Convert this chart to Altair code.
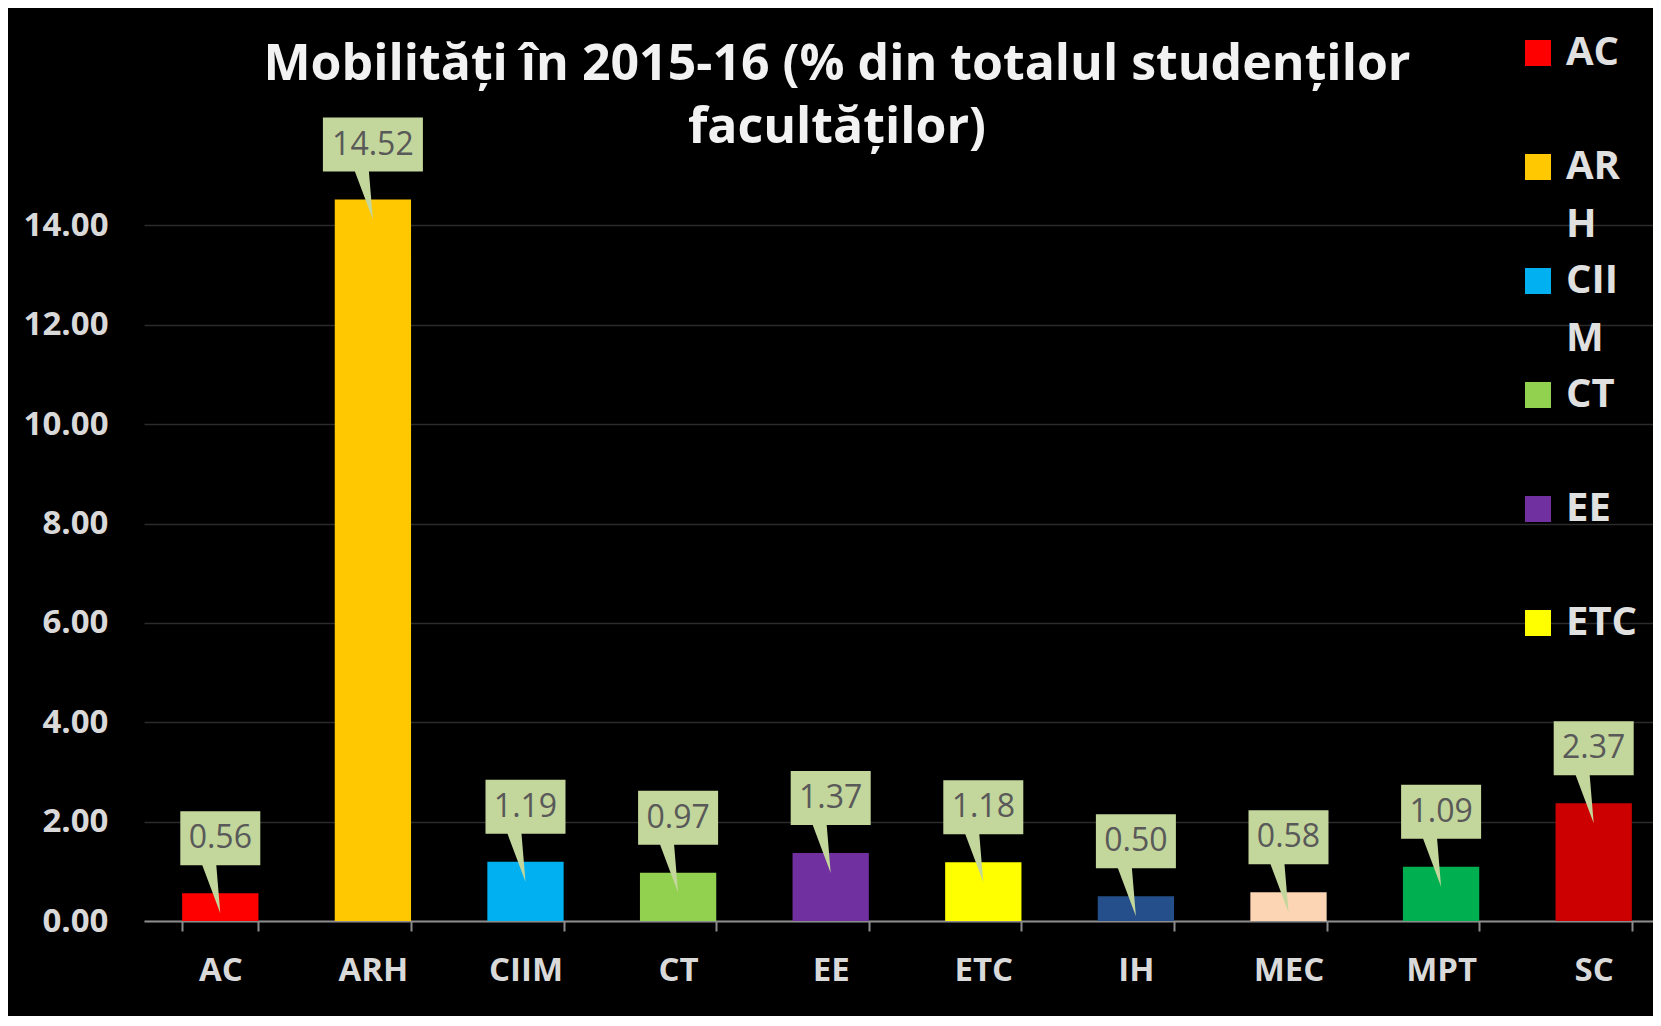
import altair as alt
import pandas as pd

# ---- data ----
categories = ["AC", "ARH", "CIIM", "CT", "EE", "ETC", "IH", "MEC", "MPT", "SC"]
values = [0.56, 14.52, 1.19, 0.97, 1.37, 1.18, 0.50, 0.58, 1.09, 2.37]
bar_colors = ["#ff0000", "#ffc800", "#00b0f0", "#92d050", "#7030a0",
              "#ffff00", "#254f8a", "#fcd5b4", "#00b050", "#cc0000"]
y_ticks = [0, 2, 4, 6, 8, 10, 12, 14]
title_lines = ["Mobilități în 2015-16 (% din totalul studenților", "facultăților)"]
legend_shown = categories[:6]
legend_wrap = {"ARH": ["AR", "H"], "CIIM": ["CII", "M"]}

df = pd.DataFrame({"cat": categories, "val": values})

# legend label expression (wrapped labels as in the reference)
label_expr = "[datum.label, ' ']"
for k, (a, b) in legend_wrap.items():
    label_expr = f"datum.label == '{k}' ? ['{a}', '{b}'] : ({label_expr})"

FONT = "Open Sans"

# callout shapes (pixel units, used with size=4)
callout_narrow = "M-40,-82 L40,-82 L40,-28 L-4,-28 L0,20 L-18,-28 L-40,-28 Z"
callout_wide = "M-50,-82 L50,-82 L50,-28 L-4,-28 L0,20 L-18,-28 L-50,-28 Z"

x_enc = alt.X(
    "cat:N",
    sort=categories,
    scale=alt.Scale(domain=categories, paddingInner=0.5, paddingOuter=0.25),
    axis=alt.Axis(
        title=None, labelAngle=0, grid=False,
        domainColor="#8c8c8c", domainWidth=2,
        tickColor="#8c8c8c", tickWidth=2, tickSize=10, tickBand="extent",
        labelFont=FONT, labelFontWeight="bold", labelFontSize=33,
        labelColor="#d9d9d9", labelPadding=23,
    ),
)
y_enc = alt.Y(
    "val:Q",
    scale=alt.Scale(domain=[0, 16], nice=False),
    axis=alt.Axis(
        title=None, values=y_ticks, format=".2f",
        grid=True, gridColor="#2b2b2b", gridWidth=1.5,
        domain=False, ticks=False,
        labelFont=FONT, labelFontWeight="bold", labelFontSize=33,
        labelColor="#d9d9d9", labelPadding=36,
    ),
)

bars = alt.Chart(df).mark_bar().encode(
    x=x_enc,
    y=y_enc,
    color=alt.Color(
        "cat:N",
        scale=alt.Scale(domain=categories, range=bar_colors),
        legend=alt.Legend(
            title=None, orient="none", legendX=1374, legendY=-93,
            values=legend_shown, symbolType="square", symbolSize=676,
            symbolStrokeWidth=0, labelFont=FONT, labelFontWeight="bold",
            labelFontSize=40, labelColor="#e0e0e0",
            labelExpr=label_expr, labelOffset=8, rowPadding=16, padding=0,
            labelLimit=300, labelBaseline="middle",
        ),
    ),
)

callouts = alt.Chart(df).mark_point(
    filled=True, size=4, opacity=1, fill="#c3d69b", strokeWidth=0
).encode(
    x=alt.X("cat:N", sort=categories),
    y=alt.Y("val:Q"),
    shape=alt.condition("datum.val >= 10", alt.value(callout_wide), alt.value(callout_narrow)),
)

labels = alt.Chart(df).mark_text(
    font=FONT, fontSize=32, color="#595959", dy=-55, baseline="middle"
).encode(
    x=alt.X("cat:N", sort=categories),
    y=alt.Y("val:Q"),
    text=alt.Text("val:Q", format=".2f"),
)

chart = alt.layer(bars, callouts, labels).properties(
    width=1526,
    height=795,
    autosize=alt.AutoSizeParams(type="none"),
    padding={"left": 136, "top": 118, "right": -17, "bottom": 95},
    background="#000000",
    title=alt.TitleParams(
        text=title_lines, font=FONT, fontSize=50, fontWeight="bold",
        color="#f2f2f2", anchor="middle", dx=-70, dy=120, baseline="top",
        lineHeight=63, offset=0,
    ),
).configure(
    style={"guide-label": {"lineHeight": 58}}
).configure_view(strokeWidth=0)

chart.save("out.html", embed_options={"renderer": "svg", "actions": False})
